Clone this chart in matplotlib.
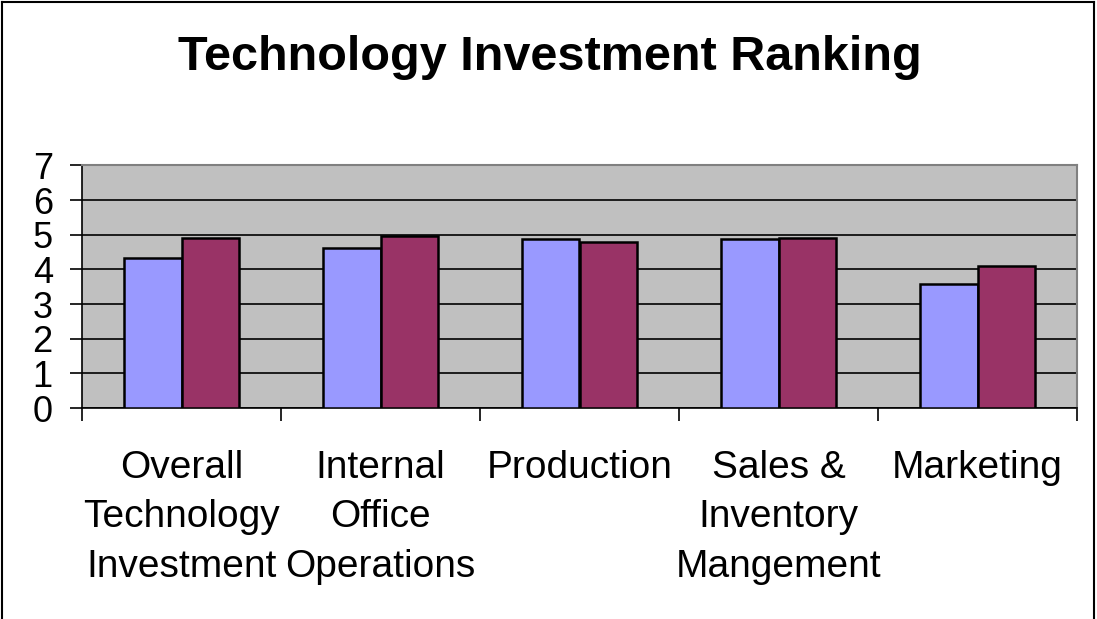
import numpy as np
import matplotlib.pyplot as plt
from matplotlib.lines import Line2D

plt.rcParams['font.family'] = ['Liberation Sans', 'DejaVu Sans']

categories = ["Overall\nTechnology\nInvestment", "Internal\nOffice\nOperations",
              "Production", "Sales &\nInventory\nMangement", "Marketing"]
series_a = [4.34, 4.62, 4.87, 4.87, 3.58]
series_b = [4.90, 4.96, 4.80, 4.91, 4.10]
y_ticks = [0, 1, 2, 3, 4, 5, 6, 7]

fig = plt.figure(figsize=(10.97, 6.19), dpi=100)
ax = fig.add_axes([82 / 1097, 1 - 408 / 619, 995 / 1097, 242.5 / 619])

x = np.arange(len(categories))
w = 0.287
ax.set_facecolor('#C0C0C0')
ax.set_axisbelow(True)
ax.yaxis.grid(True, color='black', linewidth=1.2)
ax.bar(x - w / 2, series_a, w, color='#9999FF', edgecolor='black', linewidth=1.8, zorder=3)
ax.bar(x + w / 2, series_b, w, color='#993366', edgecolor='black', linewidth=1.8, zorder=3)

ax.set_xlim(-0.5, len(categories) - 0.5)
ax.set_ylim(0, 7)
ax.set_yticks(y_ticks)
ax.set_yticklabels([str(t) for t in y_ticks], fontsize=26)
ax.tick_params(axis='y', length=9, width=1.2, pad=12, direction='out')

ax.set_xticks(x)
ax.set_xticklabels(categories, fontsize=28, linespacing=1.49)
ax.set_xticks(np.arange(len(categories) + 1) - 0.5, minor=True)
ax.tick_params(axis='x', which='major', length=0, pad=30)
ax.tick_params(axis='x', which='minor', length=9, width=1.2, direction='out')

for s in ['top', 'right']:
    ax.spines[s].set_color('#808080')
    ax.spines[s].set_linewidth(1.5)
for s in ['left', 'bottom']:
    ax.spines[s].set_color('black')
    ax.spines[s].set_linewidth(1.2)

fig.text(550 / 1097, 1 - 58 / 619, "Technology Investment Ranking",
         fontsize=35, fontweight='bold', ha='center', va='center')

# outer chart frame (top, left, right)
fr = dict(color='black', linewidth=1.5, transform=fig.transFigure)
fig.add_artist(Line2D([2 / 1097, 1094 / 1097], [1 - 2 / 619, 1 - 2 / 619], **fr))
fig.add_artist(Line2D([2 / 1097, 2 / 1097], [0, 1 - 2 / 619], **fr))
fig.add_artist(Line2D([1094 / 1097, 1094 / 1097], [0, 1 - 2 / 619], **fr))

fig.savefig("out.png", dpi=100)
